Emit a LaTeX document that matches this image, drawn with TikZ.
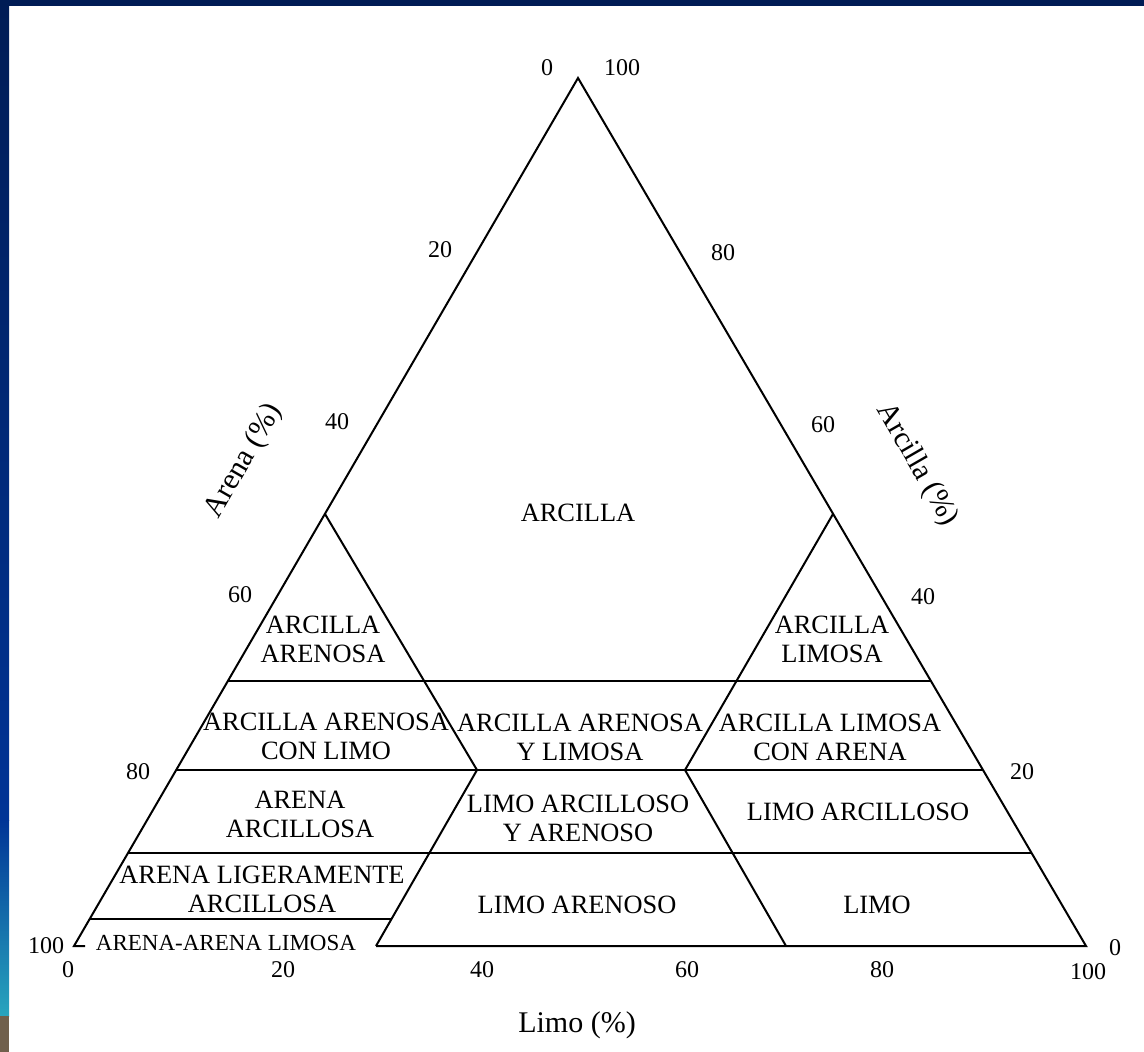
\documentclass[tikz,border=0pt]{standalone}
\usepackage{fontspec}
\setmainfont{Liberation Serif}
\usepackage{tikz}
\definecolor{navy}{RGB}{0,28,85}
\definecolor{midblue}{RGB}{0,52,150}
\definecolor{sideteal}{RGB}{40,165,190}
\definecolor{sidebrown}{RGB}{112,96,76}

\begin{document}
\begin{tikzpicture}[x=0.5pt, y=-0.5pt, line width=1pt,
    zone/.style={align=center, inner sep=0pt, font=\fontsize{13.2}{14.5}\selectfont},
    tick/.style={inner sep=0pt, font=\fontsize{12}{14}\selectfont},
    axis/.style={inner sep=0pt, font=\fontsize{15}{17}\selectfont}]
  % frame of the slide
  \useasboundingbox (0,0) rectangle (1144,1052);
  \fill[white] (0,0) rectangle (1144,1052);
  \fill[navy] (0,0) rectangle (1144,6);
  \shade[top color=navy, bottom color=midblue] (0,0) rectangle (9,820);
  \shade[top color=midblue, bottom color=sideteal] (0,820) rectangle (9,1016);
  \fill[sidebrown] (0,1016) rectangle (9,1052);

  % corners and points on the sides
  \coordinate (A) at (578,78);
  \coordinate (L) at (74,946);
  \coordinate (R) at (1086,946);
  \coordinate (Ls) at (85,946);
  \coordinate (l50) at (325,514);
  \coordinate (r50) at (833,514);
  \coordinate (l30) at (228,681);
  \coordinate (r30) at (931,681);
  \coordinate (l20) at (176,770);
  \coordinate (r20) at (983,770);
  \coordinate (l10) at (128,853);
  \coordinate (r10) at (1032,853);
  \coordinate (l3) at (90,919);
  \coordinate (m3) at (391,919);
  \coordinate (s50) at (477,770);
  \coordinate (s30) at (376,946);
  \coordinate (t50) at (685,770);
  \coordinate (t30) at (786,946);

  \draw (Ls) -- (L) -- (A) -- (R) -- (s30);
  \draw (l30) -- (r30);
  \draw (l20) -- (r20);
  \draw (l10) -- (r10);
  \draw (l3) -- (m3);
  \draw (l50) -- (s50) -- (s30);
  \draw (r50) -- (t50) -- (t30);

  % soil classes
  \node[zone] (arc) at (578,513) {ARCILLA};
  \node[zone] (arcAre) at (323,639) {ARCILLA\\ARENOSA};
  \node[zone] (arcLim) at (832,639) {ARCILLA\\LIMOSA};
  \node[zone] (arcAreLim) at (326,736) {ARCILLA ARENOSA\\CON LIMO};
  \node[zone] (arcAreYLim) at (580,737) {ARCILLA ARENOSA\\Y LIMOSA};
  \node[zone] (arcLimAre) at (830,737) {ARCILLA LIMOSA\\CON ARENA};
  \node[zone] (areArc) at (300,814) {ARENA\\ARCILLOSA};
  \node[zone] (limArcYAre) at (578,818) {LIMO ARCILLOSO\\Y ARENOSO};
  \node[zone] (limArc) at (858,812) {LIMO ARCILLOSO};
  \node[zone] (areLig) at (262,889) {ARENA LIGERAMENTE\\ARCILLOSA};
  \node[zone, font=\fontsize{11.5}{13}\selectfont] (areAreLim) at (226,943) {ARENA-ARENA LIMOSA};
  \node[zone] (limAre) at (577,905) {LIMO ARENOSO};
  \node[zone] (lim) at (877,905) {LIMO};

  % scale values
  \node[tick] (top0) at (547,68) {0};
  \node[tick] (top100) at (622,68) {100};
  \node[tick] (are20) at (440,250) {20};
  \node[tick] (are40) at (337,422) {40};
  \node[tick] (are60) at (240,595) {60};
  \node[tick] (are80) at (138,772) {80};
  \node[tick] (are100) at (46,946) {100};
  \node[tick] (arc80) at (723,253) {80};
  \node[tick] (arc60) at (823,425) {60};
  \node[tick] (arc40) at (923,597) {40};
  \node[tick] (arc20) at (1022,772) {20};
  \node[tick] (arc0) at (1115,948) {0};
  \node[tick] (lim0) at (68,970) {0};
  \node[tick] (lim20) at (283,970) {20};
  \node[tick] (lim40) at (482,970) {40};
  \node[tick] (lim60) at (687,970) {60};
  \node[tick] (lim80) at (882,970) {80};
  \node[tick] (lim100) at (1088,972) {100};

  % axis names
  \node[axis] (limAxis) at (577,1025) {Limo (\%)};
  \node[axis, rotate=60] (areAxis) at (244,461) {Arena (\%)};
  \node[axis, rotate=-60] (arcAxis) at (917,465) {Arcilla (\%)};
\end{tikzpicture}
\end{document}
